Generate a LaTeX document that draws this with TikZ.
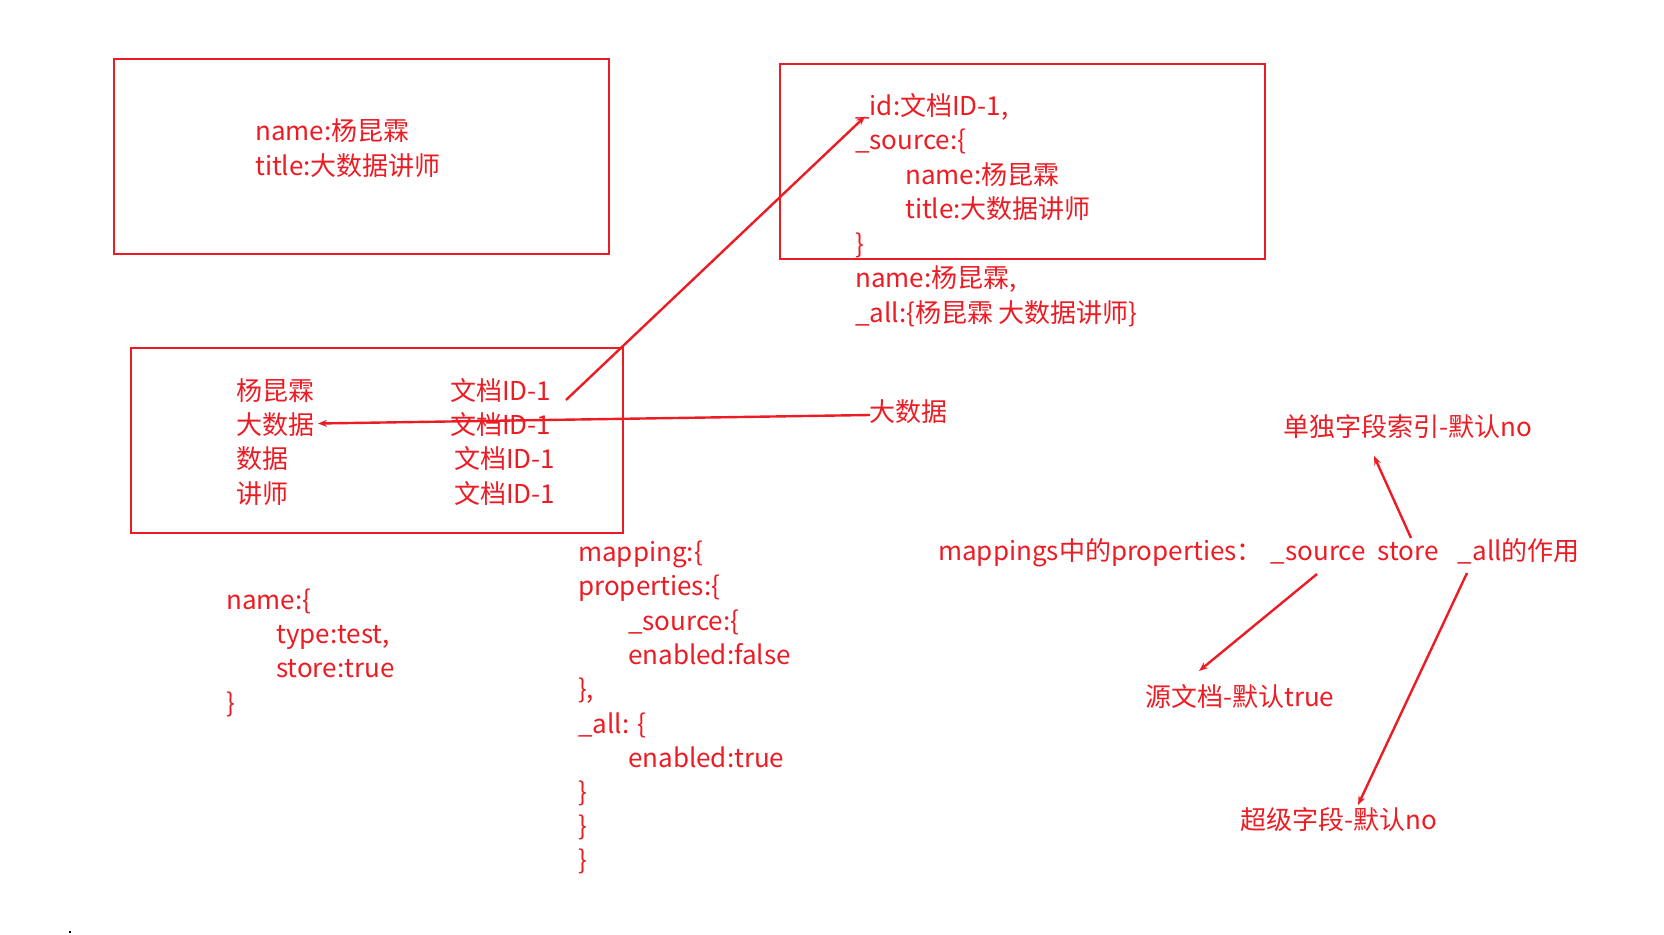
\documentclass[tikz,border=0pt]{standalone}
\usepackage{fontspec}
\setmainfont{Noto Sans CJK SC}
\usetikzlibrary{arrows.meta}
\definecolor{mred}{RGB}{236,28,36}
\begin{document}
\begin{tikzpicture}[x=1pt,y=-1pt,
  t/.style={anchor=base west, inner sep=0pt, text=mred, font=\fontsize{26}{34}\selectfont},
  box/.style={draw=mred, line width=2pt},
  arr/.style={draw=mred, line width=2.4pt, -{Stealth[length=9pt,width=7pt]}}]
\useasboundingbox (0,0) rectangle (1664,934);
% box 1
\draw[box] (113.5,59.5) rectangle (609,253.5);
\node[t] (b1a) at (255,140) {name:杨昆霖};
\node[t] (b1b) at (255,175) {title:大数据讲师};
% box 2
\draw[box] (779.5,64.5) rectangle (1265,259);
\node[t] (b2a) at (855,115) {\_id:文档ID-1,};
\node[t] (b2b) at (855,149.5) {\_source:\{};
\node[t] (b2c) at (905,184) {name:杨昆霖};
\node[t] (b2d) at (905,218.5) {title:大数据讲师};
\node[t] (b2e) at (855,253) {\}};
\node[t] (b2f) at (855,287.5) {name:杨昆霖,};
\node[t] (b2g) at (855,322) {\_all:\{杨昆霖 大数据讲师\}};
% box 3
\draw[box] (131,347.5) rectangle (622.5,532.5);
\node[t] (k1) at (236.5,400) {杨昆霖};
\node[t] (k2) at (236.5,434) {大数据};
\node[t] (k3) at (236.5,468) {数据};
\node[t] (k4) at (236.5,503) {讲师};
\node[t] (v1) at (450,400) {文档ID-1};
\node[t] (v2) at (450,434) {文档ID-1};
\node[t] (v3) at (454,468) {文档ID-1};
\node[t] (v4) at (454,503) {文档ID-1};
% query term
\node[t] (q) at (869,421.5) {大数据};
\coordinate (qs) at (870,415);
\coordinate (qe) at (318,423.5);
\draw[arr] (qs) -- (qe);
\coordinate (ds) at (566,400);
\coordinate (de) at (865,116.5);
\draw[arr] (ds) -- (de);
% name mapping
\node[t] (n1) at (226,609) {name:\{};
\node[t] (n2) at (276,643) {type:test,};
\node[t] (n3) at (276,677.5) {store:true};
\node[t] (n4) at (226,712) {\}};
% mapping
\node[t] (m1) at (578,561.5) {mapping:\{};
\node[t] (m2) at (578,595.5) {properties:\{};
\node[t] (m3) at (628,630) {\_source:\{};
\node[t] (m4) at (628,664) {enabled:false};
\node[t] (m5) at (578,698.5) {\},};
\node[t] (m6) at (578,733) {\_all: \{};
\node[t] (m7) at (628,767) {enabled:true};
\node[t] (m8) at (578,801) {\}};
\node[t] (m9) at (578,835.5) {\}};
\node[t] (m10) at (578,869.5) {\}};
% right side
\node[t] (r0) at (938,560) {mappings中的properties：\hspace{8pt}\_source\hspace{12pt}store\hspace{19pt}\_all的作用};
\node[t] (r1) at (1283,436.5) {单独字段索引-默认no};
\node[t] (r2) at (1145,706.5) {源文档-默认true};
\node[t] (r3) at (1240,829) {超级字段-默认no};
\coordinate (a1s) at (1411,538);
\coordinate (a1e) at (1374,456);
\draw[arr] (a1s) -- (a1e);
\coordinate (a2s) at (1317,574);
\coordinate (a2e) at (1199,671);
\draw[arr] (a2s) -- (a2e);
\coordinate (a3s) at (1467,573);
\coordinate (a3e) at (1358,805);
\draw[arr] (a3s) -- (a3e);
\fill[black] (69,931) rectangle (71,933);
\end{tikzpicture}
\end{document}
